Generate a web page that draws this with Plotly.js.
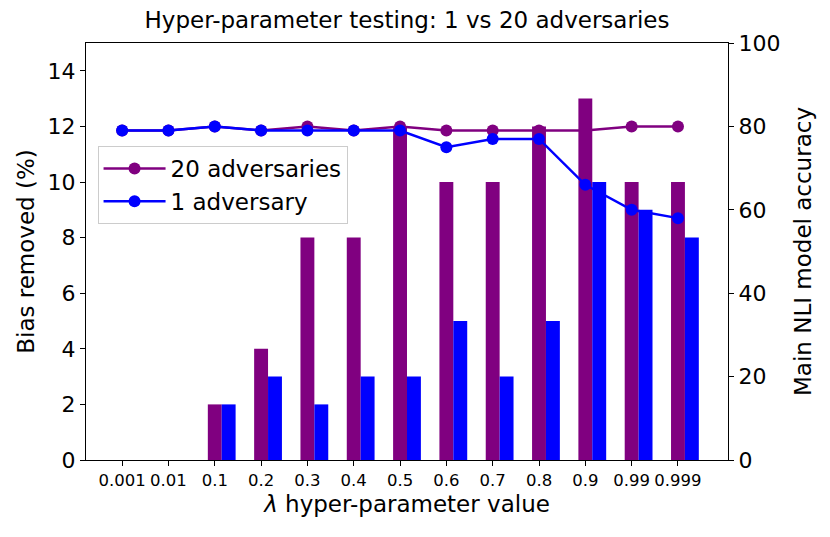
<!DOCTYPE html>
<html>
<head>
<meta charset="utf-8">
<script src="https://cdn.plot.ly/plotly-3.0.1.min.js"></script>
<style>
  body { margin: 0; background: #fff; }
  #chart { width: 830px; height: 537px; }
</style>
</head>
<body>
<div id="chart"></div>
<script>
var lambdas = ['0.001', '0.01', '0.1', '0.2', '0.3', '0.4', '0.5', '0.6', '0.7', '0.8', '0.9', '0.99', '0.999'];

// bias removed (%), left axis
var bias_20 = [0, 0, 2, 4, 8, 8, 12, 10, 10, 12, 13, 10, 10];
var bias_1 = [0, 0, 2, 3, 2, 3, 3, 5, 3, 5, 10, 9, 8];

// main NLI model accuracy, right axis
var acc_20 = [79, 79, 80, 79, 80, 79, 80, 79, 79, 79, 79, 80, 80];
var acc_1 = [79, 79, 80, 79, 79, 79, 79, 75, 77, 77, 66, 60, 58];

var idx = lambdas.map(function (d, i) { return i; });
var font = 'DejaVu Sans, sans-serif';

var bar20 = {
  x: idx, y: bias_20, type: 'bar', width: 0.3, offset: -0.15,
  marker: { color: 'purple' }, showlegend: false, hoverinfo: 'y'
};
var bar1 = {
  x: idx, y: bias_1, type: 'bar', width: 0.3, offset: 0.15,
  marker: { color: '#0000ff' }, showlegend: false, hoverinfo: 'y'
};
var line20 = {
  x: idx, y: acc_20, yaxis: 'y2', type: 'scatter', mode: 'lines+markers',
  name: '20 adversaries', legendgroup: 'a',
  line: { color: 'purple', width: 2.5 }, marker: { color: 'purple', size: 12 }
};
var line1 = {
  x: idx, y: acc_1, yaxis: 'y2', type: 'scatter', mode: 'lines+markers',
  name: '1 adversary', legendgroup: 'b',
  line: { color: '#0000ff', width: 2.5 }, marker: { color: '#0000ff', size: 12 }
};

var layout = {
  width: 830, height: 537,
  margin: { l: 86, r: 102, t: 43, b: 77 },
  paper_bgcolor: '#fff', plot_bgcolor: '#fff',
  font: { family: font, color: '#000', size: 22 },
  barmode: 'overlay',
  title: {
    text: 'Hyper-parameter testing: 1 vs 20 adversaries',
    font: { size: 23 }, xref: 'paper', x: 0.5, xanchor: 'center',
    yref: 'container', y: 0.962, yanchor: 'middle'
  },
  xaxis: {
    range: [-0.78, 13.08],
    tickmode: 'array', tickvals: idx, ticktext: lambdas,
    tickfont: { size: 16.5 },
    ticks: 'outside', ticklen: 5, tickcolor: '#000', tickwidth: 1.2,
    showline: true, linecolor: '#000', linewidth: 1.3, mirror: true,
    showgrid: false, zeroline: false,
    title: { text: '<i>λ</i> hyper-parameter value', font: { size: 23 }, standoff: 6 }
  },
  yaxis: {
    range: [0, 15], tickvals: [0, 2, 4, 6, 8, 10, 12, 14],
    ticks: 'outside', ticklen: 5, tickcolor: '#000', tickwidth: 1.2,
    showline: true, linecolor: '#000', linewidth: 1.3,
    showgrid: false, zeroline: false,
    title: { text: 'Bias removed (%)', font: { size: 23 }, standoff: 6 }
  },
  yaxis2: {
    overlaying: 'y', side: 'right',
    range: [0, 100], tickvals: [0, 20, 40, 60, 80, 100],
    ticks: 'outside', ticklen: 5, tickcolor: '#000', tickwidth: 1.2,
    showline: true, linecolor: '#000', linewidth: 1.3,
    showgrid: false, zeroline: false,
    title: { text: 'Main NLI model accuracy', font: { size: 23 }, standoff: 15 }
  },
  legend: {
    x: 0.018, y: 0.753, xanchor: 'left', yanchor: 'top',
    bgcolor: 'rgba(255,255,255,0.8)', bordercolor: '#cccccc', borderwidth: 1,
    font: { size: 23 }, tracegroupgap: 0, itemwidth: 62
  }
};

Plotly.newPlot('chart', [bar20, bar1, line20, line1], layout, { displayModeBar: false });
</script>
</body>
</html>
